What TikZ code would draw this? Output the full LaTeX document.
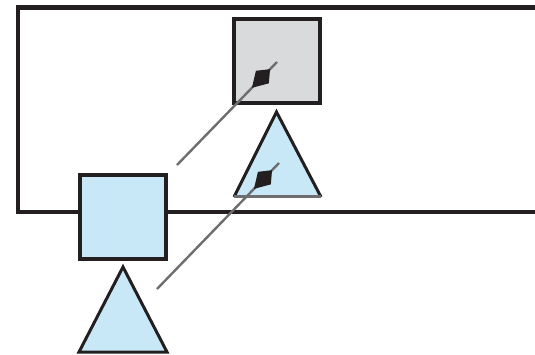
\documentclass[tikz,border=0pt]{standalone}
\usetikzlibrary{calc}
\definecolor{ink}{HTML}{231F20}
\definecolor{paleblue}{HTML}{C8E8F8}
\definecolor{palegray}{HTML}{D9DADC}
\definecolor{shaft}{HTML}{6E6E6E}
\tikzset{
  frameline/.style={draw=ink,line width=4.5pt},
  boxnode/.style={draw=ink,line width=4pt,minimum width=86pt,minimum height=84pt,inner sep=0pt},
  tri/.style={draw=ink,line width=3pt,line join=miter},
  link/.style={draw=shaft,line width=2.4pt},
  headfill/.style={fill=ink}
}
% dark kite-shaped head on a shaft: #1 = start, #2 = end of shaft
\newcommand{\headon}[2]{%
  \fill[headfill] ($(#2)!10pt!(#1)$)
    -- ($($(#2)!21pt!(#1)$)!9pt!90:(#1)$)
    -- ($(#2)!36pt!(#1)$)
    -- ($($(#2)!21pt!(#1)$)!9pt!-90:(#1)$)
    -- cycle;}
\begin{document}
\begin{tikzpicture}[x=1pt,y=-1pt]
  \useasboundingbox (0,0) rectangle (535,355);
  % open frame
  \draw[frameline] (535,7.5) -- (18,7.5) -- (18,212) -- (535,212);
  % squares
  \node[boxnode,fill=palegray] (top) at (276.5,61.5) {};
  \node[boxnode,fill=paleblue] (low) at (122.5,217) {};
  % triangles below each square
  \coordinate (ta) at (276.5,112);
  \coordinate (tl) at (234,197);
  \coordinate (tr) at (321,197);
  \coordinate (ba) at (123,267);
  \coordinate (bl) at (79,352);
  \coordinate (br) at (167,352);
  \fill[paleblue] (ta) -- (tl) -- (tr) -- cycle;
  \draw[tri] (tl) -- (ta) -- (tr);
  \draw[draw=shaft,line width=3pt] (tl) -- (tr);
  \fill[paleblue] (ba) -- (bl) -- (br) -- cycle;
  \draw[tri] (bl) -- (ba) -- (br) -- cycle;
  % arrows
  \coordinate (s1) at (177,165);
  \coordinate (e1) at (277,62);
  \coordinate (s2) at (157,289);
  \coordinate (e2) at (279,163);
  \draw[link] (s1) -- (e1);
  \draw[link] (s2) -- (e2);
  \headon{s1}{e1}
  \headon{s2}{e2}
\end{tikzpicture}
\end{document}
